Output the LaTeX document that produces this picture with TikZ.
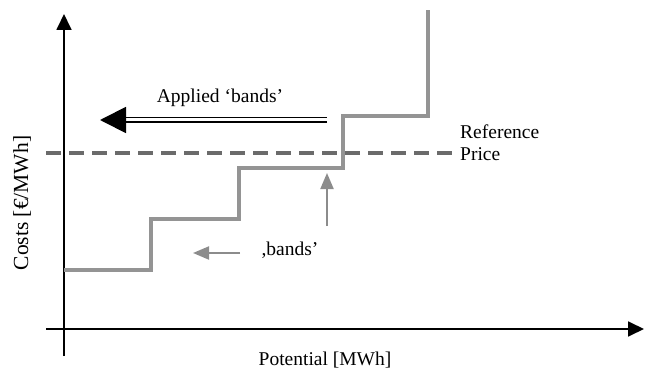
\documentclass[tikz,border=0pt]{standalone}
\usepackage{fontspec}
\setmainfont{Liberation Serif}
\usetikzlibrary{arrows.meta}
\begin{document}
\begin{tikzpicture}[x=1pt,y=-1pt,
  axis/.style={line width=1.8pt,-{Triangle[length=16pt,width=15pt]}},
  stairs/.style={draw=black!42,line width=3.4pt},
  refline/.style={draw=black!58,line width=3.6pt,dash pattern=on 15pt off 8pt},
  grayarrow/.style={draw=black!45,line width=2pt,-{Triangle[length=16pt,width=13pt]}},
  lbl/.style={font=\fontsize{19.5}{22}\selectfont,inner sep=0pt}]
\useasboundingbox (0,0) rectangle (646,369);
% axes
\coordinate (yb) at (64,356);
\coordinate (yt) at (64,14);
\coordinate (xl) at (46,329);
\coordinate (xr) at (644,329);
\draw[axis] (yb) -- (yt);
\draw[axis] (xl) -- (xr);
% reference price
\coordinate (rl) at (46,153);
\coordinate (rr) at (452,153);
\draw[refline] (rl) -- (rr);
% staircase
\draw[stairs] (64,270) -- (151,270) -- (151,219) -- (239,219) -- (239,168) -- (343,168) -- (343,116) -- (428,116) -- (428,10);
% applied bands arrow
\coordinate (ab1) at (327,120);
\coordinate (ab2) at (100,120);
\draw[double=white,double distance=3pt,line width=1.8pt,-{Triangle[length=26pt,width=26pt]}] (ab1) -- (ab2);
\node[lbl] (applied) at (220,98) {Applied ‘bands’};
% bands arrows
\node[lbl] (bands) at (290,250) {,bands’};
\coordinate (up1) at (327,226);
\coordinate (up2) at (327,173);
\draw[grayarrow] (up1) -- (up2);
\coordinate (lf1) at (240,253);
\coordinate (lf2) at (193,253);
\draw[grayarrow] (lf1) -- (lf2);
% labels
\node[lbl,anchor=west,align=left] (ref) at (460,143) {Reference\\Price};
\node[lbl,font=\fontsize{21.5}{24}\selectfont,rotate=90] (costs) at (22,203) {Costs [€/MWh]};
\node[lbl] (pot) at (325,360) {Potential [MWh]};
\end{tikzpicture}
\end{document}
